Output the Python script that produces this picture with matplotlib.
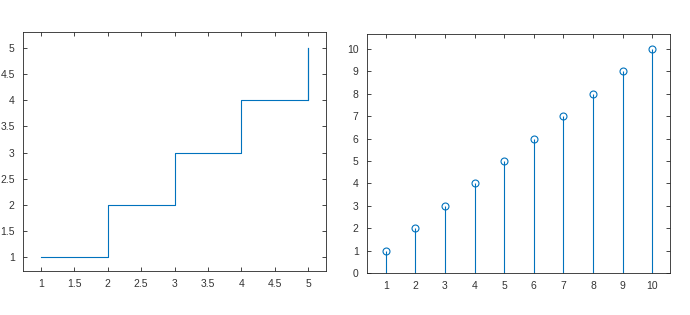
import matplotlib.pyplot as plt

# dedomena
stair_x = [1, 2, 3, 4, 5]
stair_y = [1, 2, 3, 4, 5]
stem_x = [1, 2, 3, 4, 5, 6, 7, 8, 9, 10]
stem_y = [1, 2, 3, 4, 5, 6, 7, 8, 9, 10]
left_xticks = [1, 1.5, 2, 2.5, 3, 3.5, 4, 4.5, 5]
left_yticks = [1, 1.5, 2, 2.5, 3, 3.5, 4, 4.5, 5]
right_yticks = [0, 1, 2, 3, 4, 5, 6, 7, 8, 9, 10]

blue = '#0072BD'
plt.rcParams['font.family'] = ['Liberation Sans', 'DejaVu Sans']

fig = plt.figure(figsize=(6.9, 3.15), dpi=100)
ax1 = fig.add_axes([23 / 690, 1 - 271 / 315, 303 / 690, 239 / 315])
ax2 = fig.add_axes([367 / 690, 1 - 273 / 315, 303 / 690, 239 / 315])

# stairs
ax1.step(stair_x, stair_y, where='post', color=blue, linewidth=0.8)
ax1.plot([stair_x[-1], stair_x[-1]], [stair_y[-2], stair_y[-1]], color=blue, linewidth=0.8)
ax1.set_xlim(0.73, 5.27)
ax1.set_ylim(0.74, 5.3)
ax1.set_xticks(left_xticks)
ax1.set_xticklabels([f'{v:g}' for v in left_xticks])
ax1.set_yticks(left_yticks)
ax1.set_yticklabels([f'{v:g}' for v in left_yticks])

# stem
ax2.vlines(stem_x, 0, stem_y, color=blue, linewidth=0.8)
ax2.plot(stem_x, stem_y, 'o', markersize=5, markerfacecolor='none', markeredgecolor=blue, markeredgewidth=0.8)
ax2.set_xlim(0.37, 10.6)
ax2.set_ylim(0, 10.67)
ax2.set_xticks(stem_x)
ax2.set_yticks(right_yticks)

for ax in (ax1, ax2):
    for s in ax.spines.values():
        s.set_color('#262626')
        s.set_linewidth(0.6)
    ax.tick_params(direction='in', top=True, right=True, length=3, width=0.6,
                   color='#262626', labelcolor='#333333', labelsize=7.5, pad=6)

fig.savefig('out.png', dpi=100)
